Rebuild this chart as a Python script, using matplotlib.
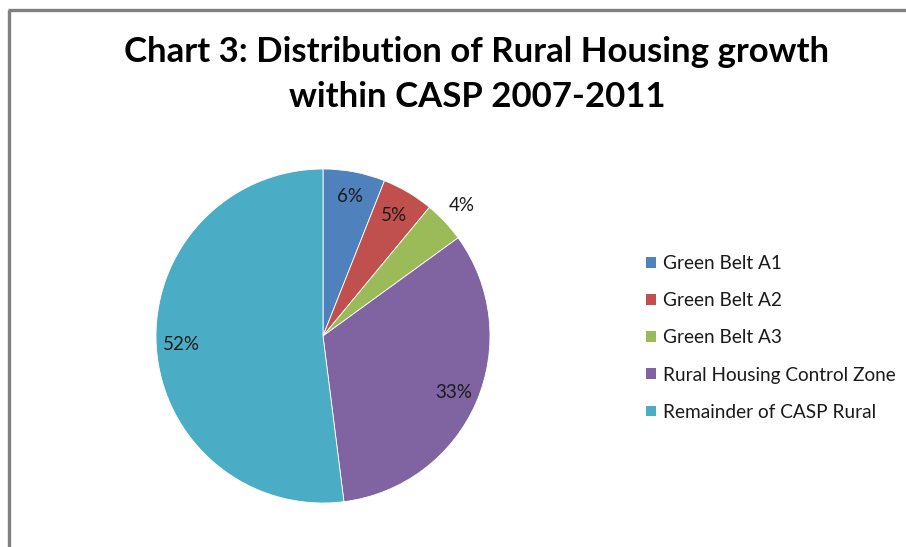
import numpy as np
from matplotlib import pyplot as plt
from matplotlib.lines import Line2D
from matplotlib.patches import Patch

categories = ["Green Belt A1", "Green Belt A2", "Green Belt A3",
              "Rural Housing Control Zone", "Remainder of CASP Rural"]
shares = [6, 5, 4, 33, 52]
colors = ["#4F81BD", "#C0504D", "#9BBB59", "#8064A2", "#4BACC6"]
label_dist = [0.85, 0.84, 1.14, 0.85, 0.85]

plt.rcParams['font.family'] = ['Lato', 'DejaVu Sans']

W, H = 906, 547
fig = plt.figure(figsize=(W / 100, H / 100), dpi=100)
fig.patch.set_facecolor("white")

# frame lines (left and top only)
fig.add_artist(Line2D([9 / W, 9 / W], [0, 1 - 10 / H], color="#808080", lw=2.4,
                      transform=fig.transFigure, solid_capstyle="butt"))
fig.add_artist(Line2D([8 / W, 1], [1 - 10 / H, 1 - 10 / H], color="#808080", lw=2.4,
                      transform=fig.transFigure, solid_capstyle="butt"))

fig.text(477 / W, 1 - 52 / H, "Chart 3: Distribution of Rural Housing growth",
         ha="center", va="center", fontsize=25, fontweight="bold")
fig.text(477 / W, 1 - 97 / H, "within CASP 2007-2011",
         ha="center", va="center", fontsize=25, fontweight="bold")

cx, cy, r = 323, 336, 167
ax = fig.add_axes([(cx - r) / W, (H - cy - r) / H, 2 * r / W, 2 * r / H])
wedges, _ = ax.pie(shares, colors=colors, startangle=90, counterclock=False,
                   radius=1, wedgeprops=dict(linewidth=0.6, edgecolor="white"))
ax.set_xlim(-1, 1)
ax.set_ylim(-1, 1)
ax.set_aspect("auto")
ax.axis("off")

for w, v, d in zip(wedges, shares, label_dist):
    ang = np.deg2rad((w.theta1 + w.theta2) / 2)
    ax.text(d * np.cos(ang), d * np.sin(ang), f"{v}%", ha="center", va="center",
            fontsize=13.5, color="#1a1a1a")

handles = [Patch(facecolor=c, edgecolor="none") for c in colors]
fig.legend(handles, categories, loc="upper left", bbox_to_anchor=(646 / W, 1 - 255 / H),
           frameon=False, fontsize=13.7, handlelength=0.5, handleheight=0.5,
           handletextpad=0.4, labelspacing=1.06, borderpad=0, borderaxespad=0,
           labelcolor="#1a1a1a")

fig.savefig("out.png", dpi=100)
